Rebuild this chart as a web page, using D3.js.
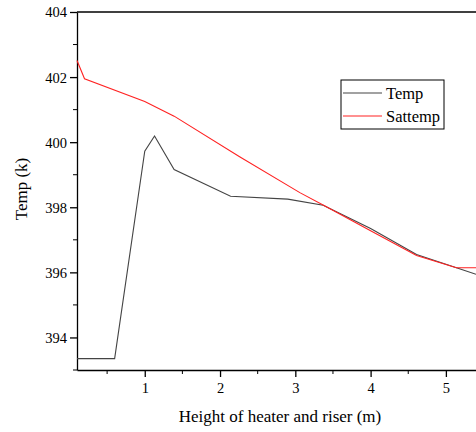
<!DOCTYPE html>
<html>
  <head>
    <meta charset="UTF-8">
    <script src="https://cdn.jsdelivr.net/npm/d3@7"></script>
    <style>
      body { margin: 0; background: #fff; }
      text { font-family: "Liberation Serif", "Times New Roman", serif; fill: #000; }
    </style>
  </head>
  <body>
    <svg id="chart" width="476" height="432"></svg>
    <script type="text/javascript">
      // data
      var heightTemp = [0.1, 0.6, 1.0, 1.13, 1.39, 2.14, 2.9, 3.37, 4.0, 4.61, 5.14, 5.4];
      var temp = [393.35, 393.35, 399.72, 400.19, 399.16, 398.34, 398.25, 398.06, 397.35, 396.55, 396.14, 395.94];
      var heightSat = [0.1, 0.2, 1.0, 1.39, 2.26, 3.06, 3.4, 4.0, 4.61, 5.14, 5.4];
      var sattemp = [402.51, 401.95, 401.25, 400.8, 399.55, 398.45, 398.03, 397.28, 396.52, 396.14, 396.14];
      var xTicks = [1, 2, 3, 4, 5];
      var yTicks = [394, 396, 398, 400, 402, 404];
      var seriesNames = ['Temp', 'Sattemp'];
      var seriesColors = ['#444', '#f22'];

      var plotL = 77, plotR = 476, plotT = 12, plotB = 370;
      var serif = '"Liberation Serif", "Times New Roman", serif';
      var svg = d3.select('#chart');

      var x = d3.scaleLinear().domain([0.1, 5.4]).range([plotL, plotR]);
      var y = d3.scaleLinear().domain([393, 404]).range([plotB, plotT]);

      // minor ticks
      svg.append('g').selectAll('line')
        .data(d3.range(0.5, 5.5, 1))
        .enter().append('line')
        .attr('x1', function(d) { return x(d); }).attr('x2', function(d) { return x(d); })
        .attr('y1', plotB).attr('y2', plotB + 4)
        .attr('stroke', '#000');
      svg.append('g').selectAll('line')
        .data(d3.range(393, 404, 2))
        .enter().append('line')
        .attr('x1', plotL - 4).attr('x2', plotL)
        .attr('y1', function(d) { return y(d); }).attr('y2', function(d) { return y(d); })
        .attr('stroke', '#000');

      var xAxis = svg.append('g')
        .attr('transform', 'translate(0,' + plotB + ')')
        .call(d3.axisBottom(x).tickValues(xTicks).tickSize(7).tickSizeOuter(0).tickFormat(d3.format('d')));
      var yAxis = svg.append('g')
        .attr('transform', 'translate(' + plotL + ',0)')
        .call(d3.axisLeft(y).tickValues(yTicks).tickSize(7).tickSizeOuter(0).tickFormat(d3.format('d')));

      [xAxis, yAxis].forEach(function(a) {
        a.attr('font-size', null).attr('font-family', null);
        a.selectAll('path, line').attr('stroke', '#000').attr('stroke-width', 1.3);
        a.selectAll('text').style('font-family', serif).style('font-size', '14.5px').attr('fill', '#000');
      });
      xAxis.selectAll('text').attr('y', 23).attr('dy', 0);
      yAxis.selectAll('text').attr('x', -10).attr('dy', '0.34em');

      // top frame line
      svg.append('line')
        .attr('x1', plotL).attr('x2', plotR).attr('y1', plotT).attr('y2', plotT)
        .attr('stroke', '#000').attr('stroke-width', 1.3);

      var line = d3.line()
        .x(function(d) { return x(d[0]); })
        .y(function(d) { return y(d[1]); });

      svg.append('path')
        .datum(d3.zip(heightTemp, temp))
        .attr('d', line).attr('fill', 'none')
        .attr('stroke', seriesColors[0]).attr('stroke-width', 1.1);
      svg.append('path')
        .datum(d3.zip(heightSat, sattemp))
        .attr('d', line).attr('fill', 'none')
        .attr('stroke', seriesColors[1]).attr('stroke-width', 1.1);

      // legend
      var lg = svg.append('g').attr('transform', 'translate(341,80)');
      lg.append('rect').attr('width', 103).attr('height', 49)
        .attr('fill', '#fff').attr('stroke', '#000').attr('stroke-width', 1);
      seriesNames.forEach(function(name, i) {
        var ly = 13 + i * 23;
        lg.append('line').attr('x1', 2).attr('x2', 41).attr('y1', ly).attr('y2', ly)
          .attr('stroke', seriesColors[i]).attr('stroke-width', 1.1);
        lg.append('text').attr('x', 45).attr('y', ly + 5.5)
          .style('font-family', serif).style('font-size', '16.5px').text(name);
      });

      // axis titles
      svg.append('text')
        .attr('x', 280).attr('y', 422)
        .attr('text-anchor', 'middle')
        .style('font-family', serif).style('font-size', '17px')
        .text('Height of heater and riser (m)');
      svg.append('text')
        .attr('transform', 'translate(27,189) rotate(-90)')
        .attr('text-anchor', 'middle')
        .style('font-family', serif).style('font-size', '17px')
        .text('Temp (k)');
    </script>
  </body>
</html>
